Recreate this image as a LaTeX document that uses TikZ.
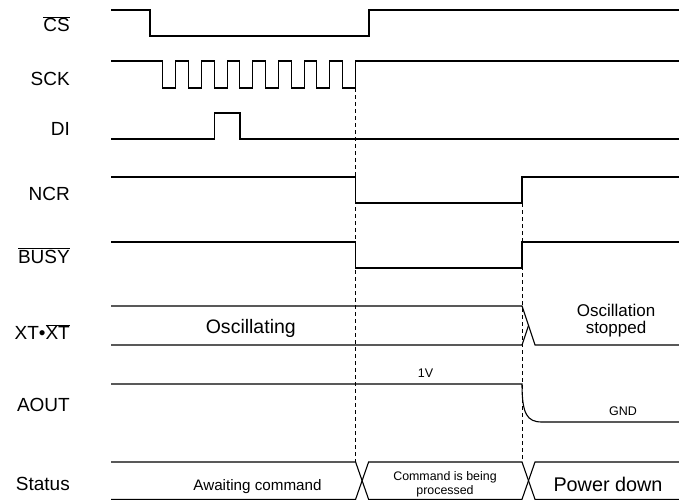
\documentclass[tikz,border=0pt]{standalone}
\usepackage{fontspec}
\setmainfont{Liberation Sans}
\usetikzlibrary{calc}

\newcommand{\barred}[1]{$\overline{\hbox{#1}}$}
\tikzset{
    sig/.style={line width=1.1pt},
    guide/.style={dash pattern=on 4pt off 3pt, line width=0.8pt},
    lbl/.style={anchor=base east, inner sep=0pt, font=\fontsize{19}{19}\selectfont},
    txt/.style={anchor=base, inner sep=0pt},
}

\begin{document}
\begin{tikzpicture}[x=1pt, y=-1pt]
    \useasboundingbox (0,0) rectangle (679,501);
    \foreach[count=\i] \yb/\nm in {31.7/{\barred{CS}},85/SCK,135/DI,200/NCR,263.3/{\barred{BUSY}},339.3/{XT\textbullet\barred{XT}},411.7/AOUT,490/Status} {
        \node[lbl] (lab-\i) at (70,\yb) {\nm};
    }
    % signals
    \draw[sig] (111,10) -| (150,36) -| (369,10) -- (679,10);
    \draw[sig] (111,61) foreach \k in {0,...,7} { -- ({162.7+25.7*\k},61) -- ++(0,27) -- ++(13,0) -- ++(0,-27) } -- (679,61);
    \draw[sig] (111,139) -| (214.3,113) -| (240,139) -- (679,139);
    \draw[sig] (111,177) -| (355.6,203) -| (522,177) -- (679,177);
    \draw[sig] (111,242) -| (355.6,268) -| (522,242) -- (679,242);
    \draw[sig] (111,306) -- (522,306) -- (535,345) -- (679,345);
    \draw[sig] (111,345) -- (522,345) -- (528.5,325.5);
    \draw[sig] (111,384) -- (522,384) .. controls (522,414) and (527,422) .. (542,422) -- (679,422);
    \draw[sig] (111,462) -- (355.6,462) -- (368.6,499.3) -- (522,499.3) -- (535,462) -- (679,462);
    \draw[sig] (111,499.3) -- (355.6,499.3) -- (368.6,462) -- (522,462) -- (535,499.3) -- (679,499.3);
    % guides
    \coordinate (cmd-start) at (355.6,88);
    \coordinate (cmd-end) at (522,203);
    \draw[guide] (cmd-start) -- (cmd-start |- 0,462);
    \draw[guide] (cmd-end) -- (cmd-end |- 0,462);
    % texts
    \node[txt, font=\fontsize{19.5}{19.5}\selectfont] (osc) at (250.8,333.5) {Oscillating};
    \node[txt, font=\fontsize{17}{17}\selectfont] (stop-1) at (616,316.5) {Oscillation};
    \node[txt, font=\fontsize{17}{17}\selectfont] (stop-2) at (616,333.5) {stopped};
    \node[txt, font=\fontsize{12.5}{12.5}\selectfont] (high) at (425.5,377.5) {1V};
    \node[txt, font=\fontsize{12.5}{12.5}\selectfont] (low) at (623,415) {GND};
    \node[txt, font=\fontsize{15.2}{15.2}\selectfont] (st-1) at (257.5,490) {Awaiting command};
    \node[txt, font=\fontsize{12.4}{12.4}\selectfont] (st-2a) at (445,480.6) {Command is being};
    \node[txt, font=\fontsize{12.4}{12.4}\selectfont] (st-2b) at (445,494) {processed};
    \node[txt, font=\fontsize{19.8}{19.8}\selectfont] (st-3) at (608,491) {Power down};
\end{tikzpicture}
\end{document}
